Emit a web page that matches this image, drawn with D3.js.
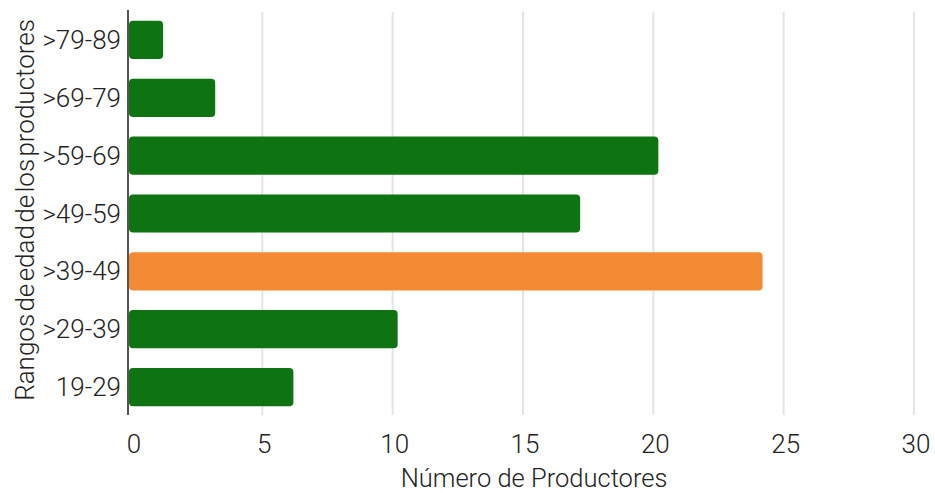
<!DOCTYPE html>
<html>
<head>
<meta charset="utf-8">
<script src="https://cdn.jsdelivr.net/npm/d3@7"></script>
<style>
  body { margin: 0; background: #fff; }
  text { font-family: Roboto, sans-serif; font-weight: 300; fill: #222; }
</style>
</head>
<body>
<div id="chart"></div>
<script>
var svgWidth = 935;
var svgHeight = 493;

// data
var ageRanges = [">79-89", ">69-79", ">59-69", ">49-59", ">39-49", ">29-39", "19-29"];
var producers = [1, 3, 20, 17, 24, 10, 6];
var highlight = ">39-49";
var xTicks = [0, 5, 10, 15, 20, 25, 30];

var svg = d3.select("#chart")
  .append("svg")
  .attr("width", svgWidth)
  .attr("height", svgHeight);

var x = d3.scaleLinear()
  .domain([0, 30])
  .range([132, 914]);

var y = d3.scaleBand()
  .domain(ageRanges)
  .range([11, 416])
  .paddingInner(0.34)
  .paddingOuter(0.17);

// gridlines
svg.append("g")
  .selectAll("line")
  .data(xTicks.slice(1))
  .enter()
  .append("line")
  .attr("x1", d => x(d))
  .attr("x2", d => x(d))
  .attr("y1", 12)
  .attr("y2", 415)
  .attr("stroke", "#e1e4ea")
  .attr("stroke-width", 2);

// bars
svg.append("g")
  .selectAll("rect")
  .data(ageRanges)
  .enter()
  .append("rect")
  .attr("x", 129)
  .attr("y", d => y(d))
  .attr("width", (d, i) => x(producers[i]) + 5 - 129)
  .attr("height", y.bandwidth())
  .attr("rx", 4)
  .attr("fill", d => d == highlight ? "#f58a35" : "#0e7411");

// y axis line
svg.append("line")
  .attr("x1", 128)
  .attr("x2", 128)
  .attr("y1", 10)
  .attr("y2", 415)
  .attr("stroke", "#555")
  .attr("stroke-width", 2);

// y labels
svg.append("g")
  .selectAll("text")
  .data(ageRanges)
  .enter()
  .append("text")
  .attr("x", 121)
  .attr("y", d => y(d) + y.bandwidth() / 2)
  .attr("dy", "0.35em")
  .attr("text-anchor", "end")
  .attr("font-size", "26px")
  .text(d => d);

// x labels
svg.append("g")
  .selectAll("text")
  .data(xTicks)
  .enter()
  .append("text")
  .attr("x", d => x(d) + 2)
  .attr("y", 453)
  .attr("text-anchor", "middle")
  .attr("font-size", "26px")
  .text(d => d);

// axis titles
svg.append("text")
  .attr("x", 534)
  .attr("y", 487)
  .attr("text-anchor", "middle")
  .attr("font-size", "25.5px")
  .text("Número de Productores");

svg.append("text")
  .attr("transform", "translate(34, 210) rotate(-90)")
  .attr("text-anchor", "middle")
  .attr("font-size", "26px")
  .attr("word-spacing", "-4px")
  .text("Rangos de edad de los productores");
</script>
</body>
</html>
